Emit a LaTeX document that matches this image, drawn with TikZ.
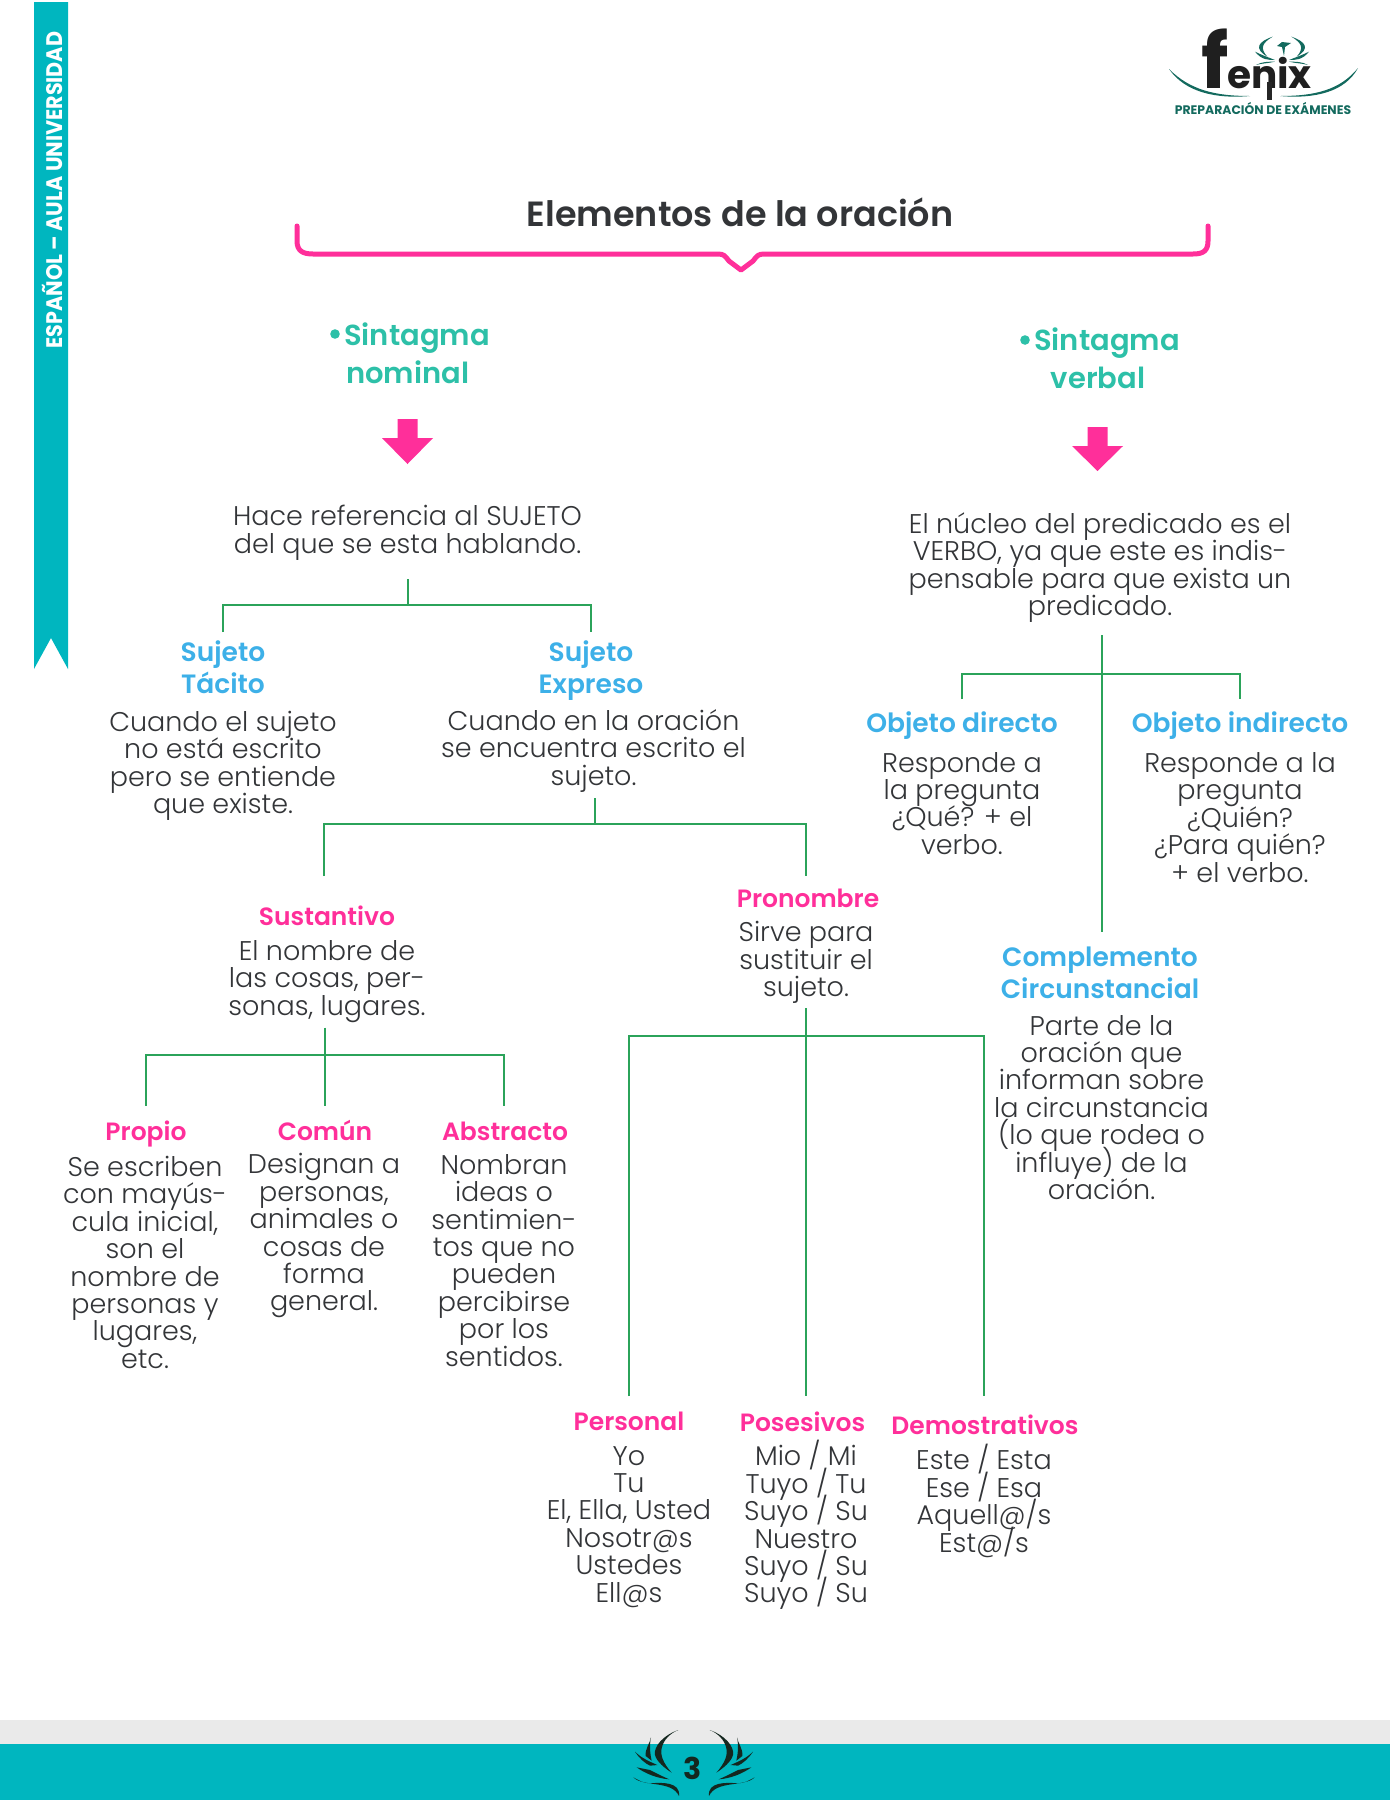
\documentclass[tikz,border=0pt]{standalone}
\usepackage{fontspec}
\setmainfont{Poppins}
\newfontfamily\bodyfont{Poppins Light}
\newfontfamily\headfont{Poppins SemiBold}
\newfontfamily\boldfont{Poppins}[UprightFont=*-Bold]
\definecolor{pinkc}{HTML}{FF2F9A}
\definecolor{bluec}{HTML}{3DB0E8}
\definecolor{tealc}{HTML}{2DC0A8}
\definecolor{barc}{HTML}{00B6BF}
\definecolor{greenc}{HTML}{2BA35A}
\definecolor{textc}{HTML}{333538}
\definecolor{greyc}{HTML}{EAEAEA}
\definecolor{darkc}{HTML}{14271F}
\definecolor{logoc}{HTML}{136A5E}
\tikzset{
  evenlines/.style={align=center,inner sep=0pt,
    execute at begin node={\lineskiplimit=-100pt\rule{0pt}{30pt}},
    execute at end node={\rule[-11pt]{0pt}{1pt}}},
  bodytext/.style={evenlines,yshift=-5.7pt,font=\fontsize{27}{27.4}\selectfont\bodyfont,text=textc},
  bluehead/.style={evenlines,font=\fontsize{26.5}{32}\selectfont\headfont,text=bluec},
  blueheadtwo/.style={bluehead,yshift=-5.7pt},
  pinkhead/.style={evenlines,font=\fontsize{25}{28}\selectfont\headfont,text=pinkc},
  tealhead/.style={font=\fontsize{29}{38}\selectfont\headfont,text=tealc,inner sep=0pt},
  branch/.style={draw=greenc,line width=2pt},
  downarrow/.style={fill=pinkc,draw=none},
  feather/.style={fill=darkc,draw=none},
  leaf/.style={fill=logoc,draw=none}
}
\begin{document}
\begin{tikzpicture}[x=1pt,y=-1pt]
\useasboundingbox (0,0) rectangle (1390,1800);
\fill[white] (0,0) rectangle (1390,1800);
% side ribbon
\fill[barc] (34,2) -- (68,2) -- (68,669) -- (51,638) -- (34,669) -- cycle;
\node[rotate=90,font=\fontsize{22.5}{24}\selectfont\boldfont,text=white,inner sep=0pt] (ribbon) at (52,190) {\scalebox{0.92}[1]{ESPAÑOL – AULA UNIVERSIDAD}};
% footer
\fill[greyc] (0,1720) rectangle (1390,1744);
\fill[barc] (0,1744) rectangle (1390,1800);
\foreach \sh/\xs in {600/0.3333,788/-0.3333}{
\begin{scope}[shift={(\sh,1700)},x=\xs pt,y=-0.3333pt]
 \fill[feather] (235,90) .. controls (190,105) and (160,140) .. (165,165) .. controls (170,185) and (195,205) .. (215,218) .. controls (190,190) and (180,165) .. (185,145) .. controls (190,120) and (210,100) .. (235,90) -- cycle;
 \fill[feather] (153,112) .. controls (150,130) and (135,145) .. (137,168) -- (155,182) .. controls (150,160) and (148,135) .. (153,112) -- cycle;
 \fill[feather] (105,155) .. controls (118,175) and (135,190) .. (150,197) -- (172,195) .. controls (150,185) and (125,175) .. (105,155) -- cycle;
 \fill[feather] (110,202) .. controls (135,220) and (170,235) .. (208,238) .. controls (185,228) and (165,218) .. (150,210) -- cycle;
 \fill[feather] (100,232) .. controls (130,262) and (215,240) .. (237,288) .. controls (242,245) and (185,247) .. (150,250) .. controls (130,250) and (115,240) .. (100,232) -- cycle;
\end{scope}}
\node[font=\fontsize{30}{32}\selectfont\boldfont,text=darkc,inner sep=0pt] (pagenum) at (692.5,1768) {3};
% logo
\node[font=\boldfont,text=black!88,inner sep=0pt,anchor=base west] (logoname) at (1201,88.5) {{\fontsize{76}{80}\selectfont f}\kern-1.5pt{\fontsize{39}{44}\selectfont enix}};
\fill[black!85] (1267,82) rectangle (1272,100);
\fill[leaf] (1169,69) .. controls (1190,90) and (1215,96) .. (1250,96) .. controls (1215,99) and (1185,92) .. (1169,69) -- cycle;
\fill[leaf] (1358,68) .. controls (1340,90) and (1315,96) .. (1280,96) .. controls (1315,99) and (1345,92) .. (1358,68) -- cycle;
\foreach \sh/\xs in {1130/0.3333,1434/-0.3333}{
\begin{scope}[shift={(\sh,10)},x=\xs pt,y=-0.3333pt]
 \fill[leaf] (428,80) .. controls (385,95) and (370,115) .. (412,140) .. controls (390,115) and (395,100) .. (428,80) -- cycle;
 \fill[leaf] (375,125) .. controls (395,150) and (415,150) .. (435,150) .. controls (410,140) and (395,135) .. (375,125) -- cycle;
 \fill[leaf] (378,165) .. controls (395,155) and (415,155) .. (435,155) .. controls (415,160) and (395,160) .. (378,165) -- cycle;
\end{scope}}
\fill[leaf] (1282,42) -- (1291,43) -- (1285,47) -- (1284,56) -- (1282,47) -- (1277,46) -- cycle;
\node[font=\fontsize{12.4}{15}\selectfont\boldfont,text=logoc,inner sep=0pt] (logotag) at (1263,108) {PREPARACIÓN DE EXÁMENES};
% title
\node[font=\fontsize{35}{38}\selectfont\headfont,text=textc,inner sep=0pt] (title) at (740,212) {Elementos de la oración};
\draw[pinkc,line width=5pt,line cap=round,line join=round] (297,226) -- (297,241) .. controls (297,251) and (303,254) .. (313,254) -- (718,254) .. controls (724,254) and (725,256) .. (729,261) -- (741,270) -- (753,261) .. controls (757,256) and (758,254) .. (764,254) -- (1193,254) .. controls (1203,254) and (1208,251) .. (1208,241) -- (1208,226);
% sintagma heads
\fill[tealc] (335,334) circle (4.8);
\fill[tealc] (1025,340) circle (4.8);
\node[tealhead,anchor=base west] (snom1) at (344,345) {Sintagma};
\node[tealhead,anchor=base west] (snom2) at (346,383) {nominal};
\node[tealhead,anchor=base west] (sver1) at (1034,350) {Sintagma};
\node[tealhead,anchor=base] (sver2) at (1098,388) {verbal};
% arrows
\fill[downarrow] (397.5,419) -- (417.5,419) -- (417.5,438) -- (433,438) -- (407.5,464) -- (382,438) -- (397.5,438) -- cycle;
\fill[downarrow] (1087.5,427) -- (1107.5,427) -- (1107.5,446) -- (1123,446) -- (1097.5,471) -- (1072,446) -- (1087.5,446) -- cycle;
% texts
\node[bodytext] (hace) at (407.5,529) {Hace referencia al SUJETO\\del que se esta hablando.};
\node[bodytext] (verbo) at (1100,564) {El núcleo del predicado es el\\VERBO, ya que este es indis-\\pensable para que exista un\\predicado.};
\node[blueheadtwo] (tacito) at (223,667) {Sujeto\\Tácito};
\node[blueheadtwo] (expreso) at (591,667) {Sujeto\\Expreso};
\node[bodytext] (tacitotxt) at (223,762) {Cuando el sujeto\\no está escrito\\pero se entiende\\que existe.};
\node[bodytext] (expresotxt) at (593.5,747) {Cuando en la oración\\se encuentra escrito el\\sujeto.};
\node[bluehead] (directo) at (962,723) {Objeto directo};
\node[bluehead] (indirecto) at (1240,723) {Objeto indirecto};
\node[bodytext] (directotxt) at (962,803) {Responde a\\la pregunta\\¿Qué? + el\\verbo.};
\node[bodytext] (indirectotxt) at (1240,817) {Responde a la\\pregunta\\¿Quién?\\¿Para quién?\\+ el verbo.};
\node[pinkhead] (sust) at (327,916) {Sustantivo};
\node[bodytext] (susttxt) at (327,977.5) {El nombre de\\las cosas, per-\\sonas, lugares.};
\node[pinkhead] (pron) at (808,898) {Pronombre};
\node[bodytext] (prontxt) at (806,959) {Sirve para\\sustituir el\\sujeto.};
\node[blueheadtwo] (compl) at (1100,972.5) {Complemento\\Circunstancial};
\node[bodytext] (compltxt) at (1101.5,1107) {Parte de la\\oración que\\informan sobre\\la circunstancia\\(lo que rodea o\\influye) de la\\oración.};
\node[pinkhead] (propio) at (146,1131) {Propio};
\node[bodytext] (propiotxt) at (145,1262) {Se escriben\\con mayús-\\cula inicial,\\son el\\nombre de\\personas y\\lugares,\\etc.};
\node[pinkhead] (comun) at (325,1131) {Común};
\node[bodytext] (comuntxt) at (324,1232) {Designan a\\personas,\\animales o\\cosas de\\forma\\general.};
\node[pinkhead] (abstr) at (505,1131) {Abstracto};
\node[bodytext] (abstrtxt) at (504,1260) {Nombran\\ideas o\\sentimien-\\tos que no\\pueden\\percibirse\\por los\\sentidos.};
\node[pinkhead] (pers) at (629,1421) {Personal};
\node[bodytext] (perstxt) at (629,1524) {Yo\\Tu\\El, Ella, Usted\\Nosotr@s\\Ustedes\\Ell@s};
\node[pinkhead] (poses) at (802.5,1422) {Posesivos};
\node[bodytext] (posestxt) at (806,1521.5) {Mio / Mi\\Tuyo / Tu\\Suyo / Su\\Nuestro\\Suyo / Su\\Suyo / Su};
\node[pinkhead] (demos) at (985,1425) {Demostrativos};
\node[bodytext] (demostxt) at (984,1498) {Este / Esta\\Ese / Esa\\Aquell@/s\\Est@/s};
% connector junctions
\coordinate (a0) at (407.5,579); \coordinate (a1) at (407.5,605); \coordinate (a2) at (222.7,605); \coordinate (a3) at (591,605); \coordinate (a4) at (222.7,632); \coordinate (a5) at (591,632);
\coordinate (b0) at (594.7,798); \coordinate (b1) at (594.7,824); \coordinate (b2) at (323.7,824); \coordinate (b3) at (806,824); \coordinate (b4) at (323.7,876); \coordinate (b5) at (806,876);
\coordinate (c0) at (325,1027.5); \coordinate (c1) at (325,1055); \coordinate (c2) at (145.8,1055); \coordinate (c3) at (504,1055); \coordinate (c4) at (145.8,1105.5); \coordinate (c5) at (325,1105.5); \coordinate (c6) at (504,1105.5);
\coordinate (d0) at (806,1008); \coordinate (d1) at (806,1035.5); \coordinate (d2) at (629,1035.5); \coordinate (d3) at (984,1035.5); \coordinate (d4) at (629,1396); \coordinate (d5) at (806,1396); \coordinate (d6) at (984,1396);
\coordinate (e0) at (1102,635); \coordinate (e1) at (1102,674); \coordinate (e2) at (962,674); \coordinate (e3) at (1240,674); \coordinate (e4) at (962,699); \coordinate (e5) at (1240,699); \coordinate (e6) at (1102,932);
\draw[branch] (a0) -- (a1); \draw[branch] (a4) -- (a2) -- (a3) -- (a5);
\draw[branch] (b0) -- (b1); \draw[branch] (b4) -- (b2) -- (b3) -- (b5);
\draw[branch] (c0) -- (c5); \draw[branch] (c4) -- (c2) -- (c3) -- (c6);
\draw[branch] (d0) -- (d5); \draw[branch] (d4) -- (d2) -- (d3) -- (d6);
\draw[branch] (e0) -- (e6); \draw[branch] (e4) -- (e2) -- (e3) -- (e5);
\end{tikzpicture}
\end{document}
